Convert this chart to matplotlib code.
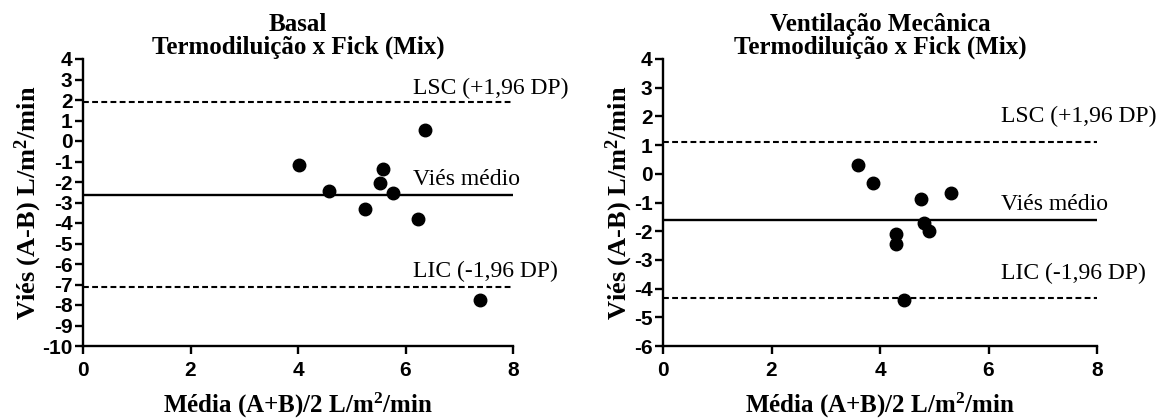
import matplotlib
matplotlib.use("Agg")
import matplotlib.pyplot as plt

plt.rcParams['mathtext.fontset'] = 'custom'
plt.rcParams['mathtext.rm'] = 'Liberation Serif:bold'
plt.rcParams['mathtext.it'] = 'Liberation Serif:bold'
plt.rcParams['mathtext.bf'] = 'Liberation Serif:bold'
plt.rcParams['axes.unicode_minus'] = False

# Basal
basal_media = [4.02, 4.57, 5.24, 5.52, 5.59, 5.77, 6.24, 6.37, 7.39]
basal_vies = [-1.15, -2.45, -3.33, -2.07, -1.36, -2.54, -3.79, 0.54, -7.74]
basal_lsc = 1.90
basal_medio = -2.63
basal_lic = -7.14

# Ventilacao mecanica
vm_media = [3.59, 3.88, 4.76, 5.31, 4.30, 4.30, 4.81, 4.91, 4.45]
vm_vies = [0.30, -0.32, -0.88, -0.67, -2.09, -2.44, -1.71, -2.00, -4.40]
vm_lsc = 1.12
vm_medio = -1.60
vm_lic = -4.33

titles = ['Basal\nTermodiluição x Fick (Mix)',
          'Ventilação Mecânica\nTermodiluição x Fick (Mix)']
ylims = [(-10, 4), (-6, 4)]
xticks = [0, 2, 4, 6, 8]

serif = 'Liberation Serif'
sans = 'Liberation Sans'

fig = plt.figure(figsize=(11.65, 4.2), dpi=100)
ax1 = fig.add_axes([83 / 1165, 74 / 420, 430 / 1165, 287 / 420])
ax2 = fig.add_axes([663 / 1165, 74 / 420, 434 / 1165, 287 / 420])

panels = [
    (ax1, basal_media, basal_vies, basal_lsc, basal_medio, basal_lic, (2.56, -1.88, -6.37), 6.14),
    (ax2, vm_media, vm_vies, vm_lsc, vm_medio, vm_lic, (2.01, -1.06, -3.48), 6.23),
]

for i, (ax, x, y, lsc, medio, lic, ty, tx) in enumerate(panels):
    ax.plot(x, y, 'o', color='black', markersize=9, zorder=3, clip_on=False)
    ax.plot([0, 8], [lsc, lsc], color='black', lw=1.5, dashes=(2.8, 1.6))
    ax.plot([0, 8], [lic, lic], color='black', lw=1.5, dashes=(2.8, 1.6))
    ax.plot([0, 8], [medio, medio], color='black', lw=1.7)

    ax.text(tx, ty[0], 'LSC (+1,96 DP)', family=serif, fontsize=17, va='center', ha='left', clip_on=False)
    ax.text(tx, ty[1], 'Viés médio', family=serif, fontsize=17, va='center', ha='left', clip_on=False)
    ax.text(tx, ty[2], 'LIC (-1,96 DP)', family=serif, fontsize=17, va='center', ha='left', clip_on=False)

    ax.set_xlim(0, 8)
    ax.set_ylim(*ylims[i])
    ax.set_xticks(xticks)
    ax.set_yticks(range(ylims[i][0], ylims[i][1] + 1))
    for s in ['top', 'right']:
        ax.spines[s].set_visible(False)
    for s in ['left', 'bottom']:
        ax.spines[s].set_linewidth(1.7)
    ax.tick_params(direction='out', length=5.5, width=1.7, labelsize=15)
    ax.tick_params(axis='y', pad=2)
    ax.tick_params(axis='x', pad=5)
    for lab in ax.get_xticklabels() + ax.get_yticklabels():
        lab.set_family(sans)
        lab.set_fontweight('bold')

    ax.set_title(titles[i], family=serif, fontweight='bold', fontsize=18, linespacing=1.0, pad=3)
    ax.set_xlabel('Média (A+B)/2 L/m$^{2}$/min', family=serif, fontweight='bold', fontsize=18, labelpad=8)
    ax.set_ylabel('Viés (A-B) L/m$^{2}$/min', family=serif, fontweight='bold', fontsize=19, labelpad=-1)

fig.savefig('out.png', dpi=100)
